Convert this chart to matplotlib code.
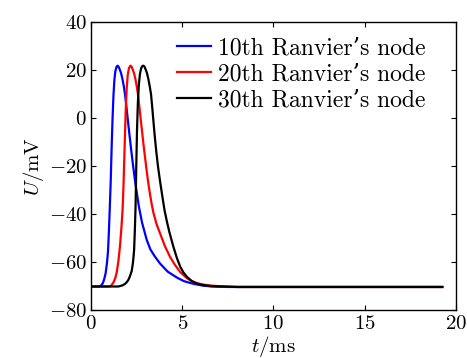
import matplotlib
matplotlib.use("Agg")
import matplotlib.pyplot as plt

plt.rcParams['font.family'] = ['cmr10', 'DejaVu Serif']
plt.rcParams['mathtext.fontset'] = 'cm'
plt.rcParams['axes.formatter.use_mathtext'] = True
plt.rcParams['axes.unicode_minus'] = True

t_10 = [0, 0.45, 0.55, 0.65, 0.72, 0.80, 0.87, 0.93, 0.98, 1.03, 1.08, 1.13, 1.18, 1.23, 1.28,
        1.33, 1.39, 1.45, 1.51, 1.58, 1.65, 1.72, 1.80, 1.87, 1.95, 2.03, 2.11, 2.20, 2.30, 2.40,
        2.50, 2.63, 2.80, 3.05, 3.25, 3.48, 3.79, 4.20, 4.71, 5.10, 5.62, 6.10, 6.60, 7.50, 19.25]
u_10 = [-70, -70, -69.6, -68.6, -67, -64.5, -60.5, -55.5, -47, -37, -26, -12, 0, 9.6, 16,
        19.5, 21.4, 22, 21.6, 20.3, 18.8, 16.5, 13.3, 9.6, 4.2, -1.5, -7, -13, -19.3, -25.3,
        -30.5, -37, -43.5, -50.5, -54.5, -57.3, -60.5, -63.8, -66.3, -67.8, -68.9, -69.6, -70, -70.2, -70.2]

t_20 = [0, 1.00, 1.10, 1.23, 1.33, 1.41, 1.50, 1.59, 1.67, 1.73, 1.78, 1.83, 1.875, 1.915, 1.96,
        2.01, 2.08, 2.16, 2.22, 2.29, 2.36, 2.43, 2.51, 2.58, 2.66, 2.74, 2.82, 2.91, 3.01, 3.11,
        3.21, 3.32, 3.42, 3.60, 3.79, 4.05, 4.34, 4.60, 4.89, 5.25, 5.62, 6.05, 6.54, 7.20, 8.00, 19.25]
u_20 = [-70, -70, -69.7, -68.3, -66.5, -64, -59.5, -53, -45, -38, -28, -15, -3, 6, 13,
        18, 21, 22, 21.6, 20.3, 18.8, 16.5, 13.3, 9.6, 4.2, -1.5, -7, -13, -19.3, -25.3,
        -30.5, -35.5, -39.3, -44.2, -48, -53.2, -57.8, -61, -64, -66.5, -68.2, -69.1, -69.6, -70, -70.2, -70.2]

t_30 = [0, 1.50, 1.70, 1.85, 1.96, 2.05, 2.13, 2.23, 2.30, 2.36, 2.40, 2.44, 2.48, 2.52, 2.57,
        2.62, 2.68, 2.75, 2.81, 2.87, 2.93, 3.00, 3.07, 3.14, 3.22, 3.29, 3.36, 3.43, 3.50,
        3.58, 3.67, 3.79, 3.90, 4.03, 4.16, 4.30, 4.52, 4.70, 4.89, 5.07, 5.26, 5.50, 5.81, 6.20,
        6.54, 7.20, 8.00, 19.25]
u_30 = [-70, -70, -69.6, -69, -68.2, -67.2, -65.8, -63.5, -60, -55, -47, -37, -20, -5, 7,
        14, 18.5, 21, 21.8, 22, 21.6, 20.3, 18.8, 16.5, 13.3, 10, 4.2, -2, -8,
        -14, -20, -26.5, -32, -38.3, -43, -47.5, -53.6, -58, -61.8, -64.2, -66, -67.6, -68.8, -69.5,
        -69.8, -70, -70.2, -70.2]

labels = ["10th Ranvier\u2019s node", "20th Ranvier\u2019s node", "30th Ranvier\u2019s node"]
colors = ["#0000ff", "#ff0000", "#000000"]

fig = plt.figure(figsize=(4.67, 3.58), dpi=100)
ax = fig.add_axes([0.1949, 0.1327, 0.7815, 0.8045])

for t, u, lab, c in zip([t_10, t_20, t_30], [u_10, u_20, u_30], labels, colors):
    ax.plot(t, u, color=c, lw=1.6, label=lab)

ax.set_xlim(0, 20)
ax.set_ylim(-80, 40)
ax.set_xticks([0, 5, 10, 15, 20])
ax.set_yticks([-80, -60, -40, -20, 0, 20, 40])
ax.tick_params(direction='in', top=True, right=True, length=3.5, width=0.8,
               labelsize=15, pad=3)
for s in ax.spines.values():
    s.set_linewidth(1.0)

ax.set_xlabel(r'$t/\mathrm{ms}$', fontsize=15, labelpad=1)
ax.set_ylabel(r'$U/\mathrm{mV}$', fontsize=15, labelpad=2)

leg = ax.legend(loc='upper left', bbox_to_anchor=(0.236, 0.95), frameon=False,
                fontsize=17, handlelength=1.45, handletextpad=0.3, labelspacing=0.17,
                borderpad=0, borderaxespad=0)

fig.savefig("out.png", dpi=100)
